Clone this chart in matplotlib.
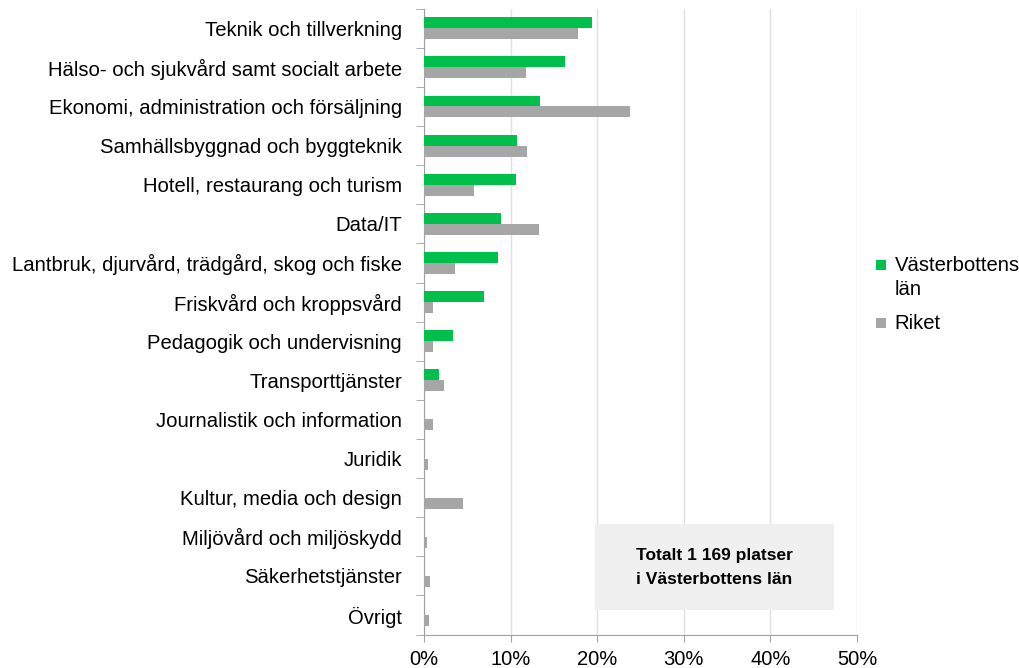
import matplotlib.pyplot as plt
from matplotlib.patches import Rectangle
import numpy as np

plt.rcParams['font.family'] = ['Liberation Sans', 'DejaVu Sans']

categories = ['Teknik och tillverkning', 'Hälso- och sjukvård samt socialt arbete',
              'Ekonomi, administration och försäljning', 'Samhällsbyggnad och byggteknik',
              'Hotell, restaurang och turism', 'Data/IT',
              'Lantbruk, djurvård, trädgård, skog och fiske', 'Friskvård och kroppsvård',
              'Pedagogik och undervisning', 'Transporttjänster',
              'Journalistik och information', 'Juridik', 'Kultur, media och design',
              'Miljövård och miljöskydd', 'Säkerhetstjänster', 'Övrigt']
vasterbotten = [19.4, 16.3, 13.4, 10.7, 10.6, 8.9, 8.6, 6.9, 3.4, 1.7, 0, 0, 0, 0, 0, 0]
riket = [17.8, 11.8, 23.8, 11.9, 5.8, 13.3, 3.6, 1.0, 1.0, 2.3, 1.0, 0.5, 4.5, 0.3, 0.7, 0.6]
xticks = [0, 10, 20, 30, 40, 50]

green = '#00C04B'
grey = '#A6A6A6'

fig = plt.figure(figsize=(10.2, 6.68), dpi=100)
ax = fig.add_axes([0.4157, 0.05, 0.4245, 0.937])

y = np.arange(len(categories))
h = 0.28
ax.barh(y - h / 2, vasterbotten, height=h, color=green, zorder=3)
ax.barh(y + h / 2, riket, height=h, color=grey, zorder=3)

ax.set_ylim(len(categories) - 0.5, -0.5)
ax.set_xlim(0, 50)
ax.set_xticks(xticks)
ax.set_xticklabels([f'{t}%' for t in xticks], fontsize=14.5)
ax.set_yticks(y)
ax.set_yticklabels(categories, fontsize=14.6)
ax.tick_params(axis='y', length=0, pad=16)
ax.set_yticks(np.arange(len(categories) + 1) - 0.5, minor=True)
ax.tick_params(axis='y', which='minor', length=6, color='#A0A0A0')
ax.tick_params(axis='x', length=5, color='#A0A0A0', pad=6)

ax.grid(axis='x', color='#E0E0E0', linewidth=1, zorder=0)
for s in ['top', 'right']:
    ax.spines[s].set_visible(False)
for s in ['left', 'bottom']:
    ax.spines[s].set_color('#A0A0A0')

# textruta
ax.add_patch(Rectangle((19.7, 12.68), 27.6, 2.2, facecolor='#F0F0F0', edgecolor='none', zorder=4))
ax.text(33.5, 13.78, 'Totalt 1 169 platser\ni Västerbottens län', ha='center', va='center',
        fontsize=12.5, fontweight='bold', linespacing=1.7, zorder=5)

# förklaring
fig.patches.append(Rectangle((0.859, 0.596), 0.0098, 0.015, facecolor=green,
                             transform=fig.transFigure, figure=fig))
fig.patches.append(Rectangle((0.859, 0.509), 0.0098, 0.015, facecolor=grey,
                             transform=fig.transFigure, figure=fig))
fig.text(0.877, 0.603, 'Västerbottens', fontsize=14.6, va='center')
fig.text(0.877, 0.566, 'län', fontsize=14.6, va='center')
fig.text(0.877, 0.516, 'Riket', fontsize=14.6, va='center')

fig.savefig('out.png', dpi=100)
